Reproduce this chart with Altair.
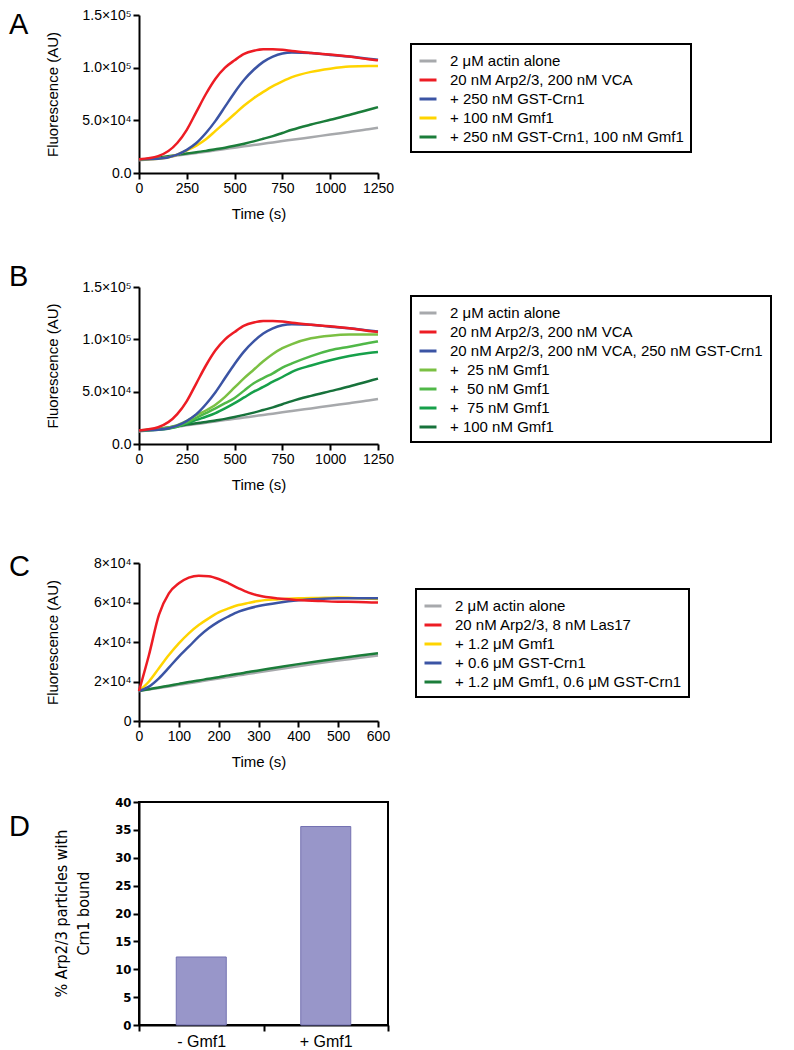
import altair as alt
import pandas as pd

FONT = "Liberation Sans"
NARROW = "'Liberation Sans Narrow', 'DejaVu Sans Condensed', 'Liberation Sans'"

# ---------------- Panel A ----------------
time_a = [0, 100, 200, 250, 300, 350, 400, 450, 500, 550, 600, 650, 700, 750, 800, 900, 1000, 1100, 1200, 1250]
labels_a = ["2 μM actin alone", "20 nM Arp2/3, 200 nM VCA", "+ 250 nM GST-Crn1",
            "+ 100 nM Gmf1", "+ 250 nM GST-Crn1, 100 nM Gmf1"]
colors_a = ["#a7a9ac", "#ed1c24", "#3b54a4", "#ffd400", "#1b7d3a"]
a_actin = [12000, 14000, 16500, 17800, 19000, 20200, 21500, 22800, 24000, 25300, 26500, 27800, 29000, 30300, 31500, 34000, 36500, 39000, 41500, 43000]
a_vca = [13000, 16000, 28500, 41000, 58000, 75000, 89500, 100000, 107000, 113000, 116000, 117500, 117500, 117000, 115800, 114000, 112500, 110500, 108000, 107000]
a_crn1 = [13000, 13500, 17500, 22000, 28500, 38000, 49500, 63000, 76500, 88500, 98000, 105500, 110500, 113500, 114500, 114000, 112000, 110500, 108500, 107500]
a_gmf1 = [13000, 13500, 17500, 21500, 26000, 32000, 40000, 48000, 56000, 64000, 71000, 77000, 82500, 87000, 91000, 96000, 99000, 101000, 101500, 101500]
a_both = [12500, 14500, 17200, 18500, 19800, 21000, 22500, 24000, 25800, 27800, 30000, 32500, 35000, 38000, 41000, 46000, 50500, 55000, 60000, 62500]

# ---------------- Panel B ----------------
time_b = [0, 100, 200, 250, 300, 350, 400, 450, 500, 550, 600, 650, 700, 750, 800, 900, 1000, 1100, 1200, 1250]
labels_b = ["2 μM actin alone", "20 nM Arp2/3, 200 nM VCA", "20 nM Arp2/3, 200 nM VCA, 250 nM GST-Crn1",
            "+ \u00a025 nM Gmf1", "+ \u00a050 nM Gmf1", "+ \u00a075 nM Gmf1", "+ 100 nM Gmf1"]
colors_b = ["#a7a9ac", "#ed1c24", "#3b54a4", "#7bc043", "#50b848", "#16a04a", "#17723b"]
b_actin = [12000, 14000, 16500, 17800, 19000, 20200, 21500, 22800, 24000, 25300, 26500, 27800, 29000, 30300, 31500, 34000, 36500, 39000, 41500, 43000]
b_vca = [13000, 16000, 28500, 41000, 58000, 75000, 89500, 100000, 107000, 113000, 116000, 117500, 117500, 117000, 115800, 114000, 112500, 110500, 108000, 107000]
b_crn1 = [13000, 13500, 17500, 22000, 28500, 38000, 49500, 63000, 76500, 88500, 98000, 105500, 110500, 113500, 114500, 114000, 112000, 110500, 108500, 107500]
b_g25 = [13000, 14000, 18000, 22000, 27500, 32000, 37500, 45000, 54000, 63000, 71000, 79000, 86000, 91500, 95500, 101000, 103500, 104500, 104500, 104500]
b_g50 = [13000, 13800, 17000, 20500, 25000, 29500, 34000, 39000, 44000, 51000, 58000, 63000, 67500, 73000, 77000, 84000, 89500, 93000, 96500, 98000]
b_g75 = [13000, 13600, 16500, 19500, 23000, 26000, 29500, 34000, 39000, 44500, 50000, 54500, 59500, 64000, 69000, 75000, 80000, 84000, 87000, 88000]
b_g100 = [12500, 14500, 17200, 18500, 19800, 21000, 22500, 24000, 25800, 27800, 30000, 32500, 35000, 38000, 41000, 46000, 50500, 55000, 60000, 62500]

# ---------------- Panel C ----------------
time_c = [0, 25, 50, 75, 100, 125, 150, 175, 200, 225, 250, 275, 300, 350, 400, 450, 500, 550, 600]
labels_c = ["2 μM actin alone", "20 nM Arp2/3, 8 nM Las17", "+ 1.2 μM Gmf1",
            "+ 0.6 μM GST-Crn1", "+ 1.2 μM Gmf1, 0.6 μM GST-Crn1"]
colors_c = ["#a7a9ac", "#ed1c24", "#ffd400", "#3b54a4", "#1b7d3a"]
c_actin = [15200, 15900, 16700, 17500, 18300, 19100, 19900, 20700, 21500, 22300, 23100, 23900, 24700, 26200, 27700, 29200, 30600, 31900, 33200]
c_las17 = [15200, 33400, 53700, 64600, 69700, 72600, 73600, 73300, 71900, 69700, 67200, 65000, 63500, 62000, 61300, 60800, 60400, 60300, 60000]
c_gmf1 = [15200, 20000, 26700, 33400, 39300, 44400, 48600, 52000, 55000, 57000, 58700, 59800, 60800, 61600, 62100, 62300, 62500, 62200, 61800]
c_crn1 = [15200, 17400, 21600, 27000, 32600, 37600, 42700, 46900, 50300, 53000, 55400, 57000, 58200, 59900, 61100, 61800, 62100, 62100, 62100]
c_both = [15200, 16100, 17000, 17900, 18800, 19700, 20500, 21400, 22200, 23100, 23900, 24800, 25600, 27200, 28800, 30300, 31700, 33000, 34300]

# ---------------- Panel D ----------------
d_conditions = ["- Gmf1", "+ Gmf1"]
d_percent = [12.2, 35.6]


def line_panel(times, series, labels, colors, draw_order, field, xmax, xticks,
               yticks, ylabel_expr, letter, letter_y, legend_x, legend_y, w, h):
    rows = []
    for i in draw_order:
        for t, v in zip(times, series[i]):
            rows.append({"t": t, "v": v, field: labels[i]})
    df = pd.DataFrame(rows)
    lines = alt.Chart(df).mark_line(strokeWidth=2.5, interpolate="monotone").encode(
        x=alt.X("t:Q", scale=alt.Scale(domain=[0, xmax], nice=False),
                axis=alt.Axis(values=xticks, format="d", title="Time (s)", labelFontSize=14,
                              labelPadding=2, titleFontSize=15, titleX=w / 2, titleY=33,
                              labelFlush=False)),
        y=alt.Y("v:Q", scale=alt.Scale(domain=[0, yticks[-1]], nice=False),
                axis=alt.Axis(values=yticks, labelExpr=ylabel_expr, title="Fluorescence (AU)",
                              labelFontSize=14, labelPadding=2, titleFontSize=15,
                              titleX=-79, titleY=h / 2, labelFlush=False)),
        color=alt.Color(f"{field}:N", scale=alt.Scale(domain=labels, range=colors),
                        legend=alt.Legend(orient="none", legendX=legend_x, legendY=legend_y,
                                          title=None, strokeColor="black", fillColor="white",
                                          padding=7, symbolType="stroke", symbolStrokeWidth=3,
                                          symbolSize=289, labelFontSize=15, labelFont=FONT,
                                          labelColor="black", labelLimit=500, labelOffset=12,
                                          rowPadding=1)),
    )
    let = alt.Chart(pd.DataFrame({"letter": [letter]})).mark_text(
        fontSize=29, font=FONT, align="left", baseline="top", color="black"
    ).encode(x=alt.value(-130), y=alt.value(letter_y), text="letter:N")
    return alt.layer(lines, let).properties(width=w, height=h)


expr_ab = ("datum.value == 0 ? '0.0' : (datum.value >= 100000 ? format(datum.value / 100000, '.1f') + '×10⁵'"
           " : format(datum.value / 10000, '.1f') + '×10⁴')")
expr_c = "datum.value == 0 ? '0' : format(datum.value / 10000, 'd') + '×10⁴'"

panel_a = line_panel(time_a, [a_actin, a_vca, a_crn1, a_gmf1, a_both], labels_a, colors_a,
                     [0, 4, 3, 2, 1], "cond_a", 1250, [0, 250, 500, 750, 1000, 1250],
                     [0, 50000, 100000, 150000], expr_ab, "A", -4, 272, 29, 239, 158)
panel_b = line_panel(time_b, [b_actin, b_vca, b_crn1, b_g25, b_g50, b_g75, b_g100], labels_b, colors_b,
                     [0, 6, 5, 4, 3, 2, 1], "cond_b", 1250, [0, 250, 500, 750, 1000, 1250],
                     [0, 50000, 100000, 150000], expr_ab, "B", -24, 272, 9, 239, 157)
panel_c = line_panel(time_c, [c_actin, c_las17, c_gmf1, c_crn1, c_both], labels_c, colors_c,
                     [0, 4, 2, 3, 1], "cond_c", 600, [0, 100, 200, 300, 400, 500, 600],
                     [0, 20000, 40000, 60000, 80000], expr_c, "C", -10, 277, 26, 239, 158)

df_d = pd.DataFrame({"cond": d_conditions, "pct": d_percent})
bars = alt.Chart(df_d).mark_bar(size=50, color="#9896c9", stroke="#7371b1", strokeWidth=1).encode(
    x=alt.X("cond:N", sort=d_conditions, scale=alt.Scale(paddingInner=0, paddingOuter=0),
            axis=alt.Axis(title=None, labelAngle=0, tickBand="extent", labelFontSize=16,
                          labelPadding=2, labelFont=FONT)),
    y=alt.Y("pct:Q", scale=alt.Scale(domain=[0, 40], nice=False),
            axis=alt.Axis(values=[0, 5, 10, 15, 20, 25, 30, 35, 40],
                          title=["% Arp2/3 particles with", "Crn1 bound"],
                          titleFont=NARROW, titleFontSize=16, titleLineHeight=22,
                          titleX=-70, titleY=111, labelFontSize=13, labelFontWeight="bold",
                          labelFont=NARROW, labelPadding=2, labelFlush=False)),
)
let_d = alt.Chart(pd.DataFrame({"letter": ["D"]})).mark_text(
    fontSize=29, font=FONT, align="left", baseline="top", color="black"
).encode(x=alt.value(-130), y=alt.value(11), text="letter:N")
panel_d = alt.layer(bars, let_d).properties(
    width=249, height=223, view=alt.ViewBackground(stroke="black", strokeWidth=2))


def spacer(h):
    return alt.Chart(pd.DataFrame({"s": [0]})).mark_point(opacity=0).encode(
        x=alt.value(0), y=alt.value(0)).properties(width=1, height=h)


chart = alt.vconcat(panel_a, spacer(114), panel_b, spacer(119), panel_c, spacer(81), panel_d,
                    spacing=0, bounds="flush").resolve_scale(color="independent").properties(
    padding=0
).configure_view(stroke=None).configure_axis(
    grid=False, domainColor="black", domainWidth=2, tickColor="black", tickWidth=2, tickSize=6,
    labelColor="black", titleColor="black", labelFont=FONT, titleFont=FONT,
    titleFontWeight="normal"
).configure_legend(strokeWidth=2)

chart.save("out.html", embed_options={"renderer": "svg", "actions": False})
